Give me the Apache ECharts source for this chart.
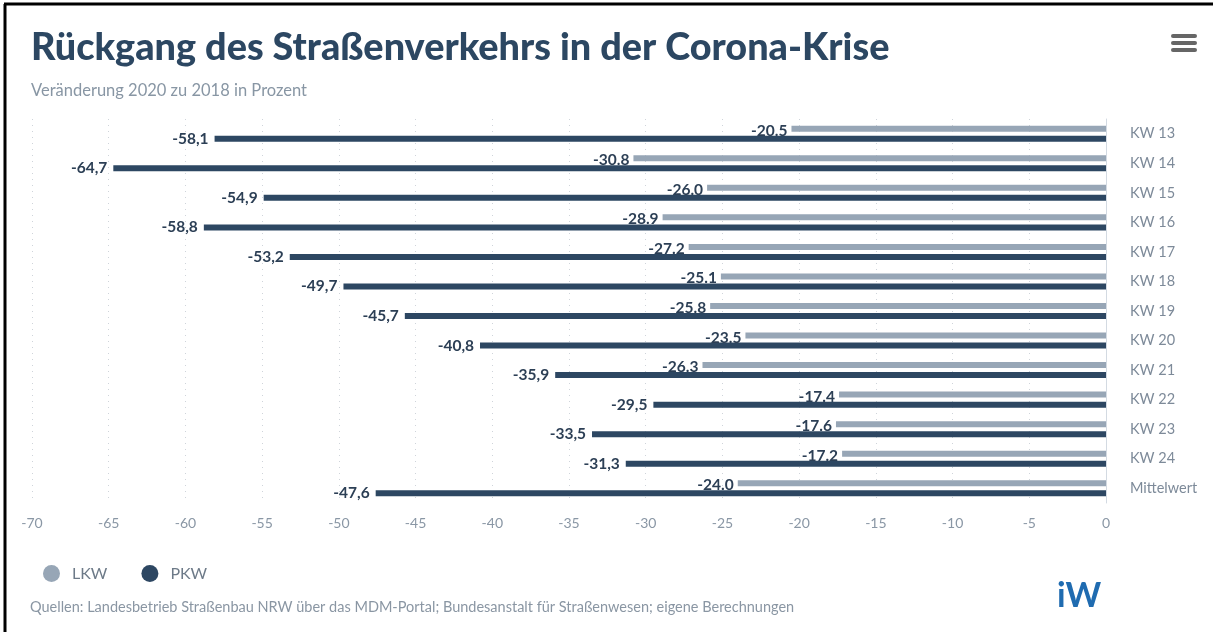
<!DOCTYPE html>
<html>
<head>
<meta charset="utf-8">
<script src="https://cdn.jsdelivr.net/npm/echarts@6/dist/echarts.min.js"></script>
<style>
  html, body { margin: 0; padding: 0; background: #fff; }
  #container { width: 1216px; height: 632px; }
</style>
</head>
<body>
<div id="container"></div>
<script>
    // Kalenderwochen
    let categories = ['KW 13', 'KW 14', 'KW 15', 'KW 16', 'KW 17', 'KW 18', 'KW 19',
        'KW 20', 'KW 21', 'KW 22', 'KW 23', 'KW 24', 'Mittelwert'];
    let lkw = [-20.5, -30.8, -26.0, -28.9, -27.2, -25.1, -25.8, -23.5, -26.3, -17.4, -17.6, -17.2, -24.0];
    let pkw = [-58.1, -64.7, -54.9, -58.8, -53.2, -49.7, -45.7, -40.8, -35.9, -29.5, -33.5, -31.3, -47.6];

    let font = 'Lato';
    let dom = document.getElementById('container');
    let myChart = echarts.init(dom);

    let option = {
        backgroundColor: '#fff',
        animation: false,
        textStyle: { fontFamily: font },
        title: {
            text: 'Rückgang des Straßenverkehrs in der Corona-Krise',
            subtext: 'Veränderung 2020 zu 2018 in Prozent',
            left: 26,
            top: 24,
            itemGap: 15,
            textStyle: { fontFamily: font, fontWeight: 900, fontSize: 37.8, color: '#2c4762' },
            subtextStyle: { fontFamily: font, fontSize: 16.5, color: '#8896a4' }
        },
        legend: {
            left: 38,
            top: 560,
            icon: 'circle',
            itemWidth: 17,
            itemHeight: 17,
            itemGap: 34,
            textStyle: { fontFamily: font, fontSize: 16, color: '#6d7a88', padding: [0, 0, 0, 7] },
            data: ['LKW', 'PKW']
        },
        grid: { left: 32, right: 110, top: 119, bottom: 129 },
        xAxis: {
            type: 'value',
            min: -70,
            max: 0,
            interval: 5,
            axisLine: { show: false },
            axisTick: { show: false },
            axisLabel: { color: '#8a97a5', fontSize: 14, margin: 13 },
            splitLine: { show: true, lineStyle: { color: '#cfd4da', type: [1, 5] } }
        },
        yAxis: {
            type: 'category',
            position: 'right',
            inverse: true,
            data: categories,
            axisLine: { show: true, lineStyle: { color: '#d3dae2' } },
            axisTick: { show: false },
            axisLabel: { color: '#7d8a99', fontSize: 14.5, margin: 24 }
        },
        series: [
            {
                name: 'LKW',
                type: 'bar',
                data: lkw,
                barWidth: 6,
                barGap: '67%',
                itemStyle: { color: '#97a6b6' },
                label: {
                    show: true,
                    position: 'left',
                    distance: 4,
                    offset: [0, 2],
                    color: '#2c3f55',
                    fontWeight: 'bold',
                    fontSize: 15.5,
                    formatter: p => p.value.toFixed(1)
                }
            },
            {
                name: 'PKW',
                type: 'bar',
                data: pkw,
                barWidth: 6,
                itemStyle: { color: '#2d4762' },
                label: {
                    show: true,
                    position: 'left',
                    distance: 6,
                    color: '#2c3f55',
                    fontWeight: 'bold',
                    fontSize: 15.5,
                    formatter: p => p.value.toFixed(1).replace('.', ',')
                }
            }
        ],
        graphic: [
            // Rahmen oben und links
            { type: 'line', shape: { x1: 4, y1: 4, x2: 1213, y2: 4 }, style: { stroke: '#000', lineWidth: 3 } },
            { type: 'line', shape: { x1: 5, y1: 4, x2: 5, y2: 632 }, style: { stroke: '#000', lineWidth: 3 } },
            // Menü-Symbol
            { type: 'rect', shape: { x: 1171, y: 34, width: 26, height: 4, r: 2 }, style: { fill: '#666' } },
            { type: 'rect', shape: { x: 1171, y: 41, width: 26, height: 4, r: 2 }, style: { fill: '#666' } },
            { type: 'rect', shape: { x: 1171, y: 48, width: 26, height: 4, r: 2 }, style: { fill: '#666' } },
            {
                type: 'text', left: 30, top: 600,
                style: {
                    text: 'Quellen: Landesbetrieb Straßenbau NRW über das MDM-Portal; Bundesanstalt für Straßenwesen; eigene Berechnungen',
                    font: '14.5px ' + font, fill: '#8a96a3'
                }
            },
            {
                type: 'text', left: 1057, top: 579,
                style: { text: 'iW', font: 'bold 34px ' + font, fill: '#1f6bb0' }
            }
        ]
    };
    myChart.setOption(option);
</script>
</body>
</html>
